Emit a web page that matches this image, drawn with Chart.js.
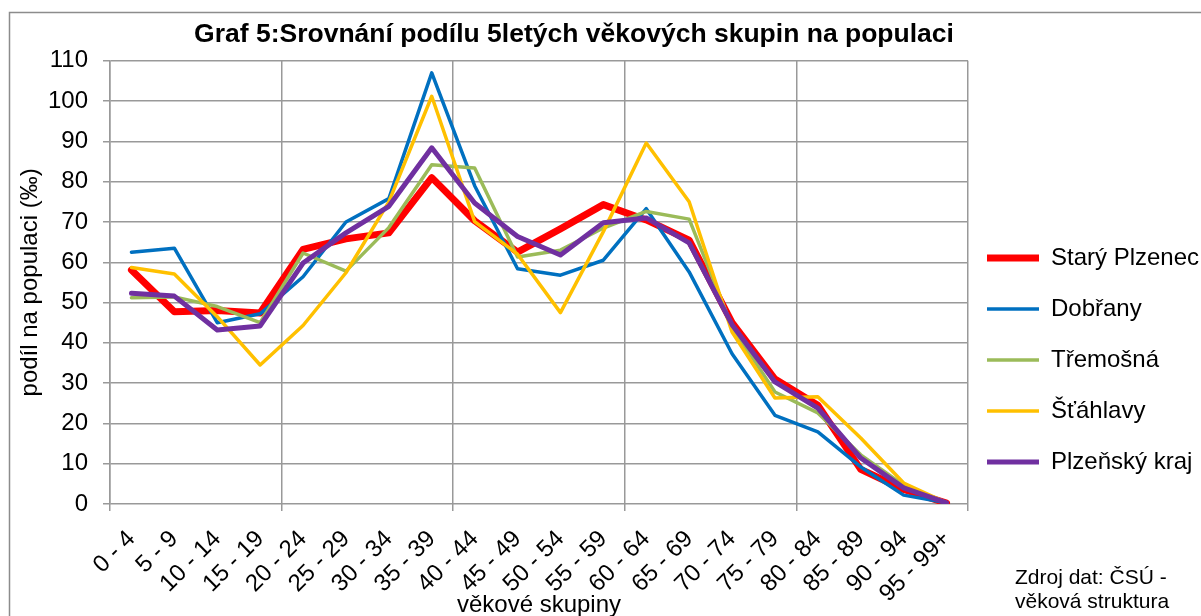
<!DOCTYPE html>
<html>
<head>
<meta charset="utf-8">
<script src="https://cdn.jsdelivr.net/npm/chart.js@4.4.1/dist/chart.umd.min.js"></script>
<style>
  body { margin: 0; background: #fff; }
  #wrap { width: 1201px; height: 616px; position: relative; }
</style>
</head>
<body>
<div id="wrap"><canvas id="graf5"></canvas></div>
<script>
// Věkové skupiny (osa x)
var skupiny = ['0 - 4', '5 - 9', '10 - 14', '15 - 19', '20 - 24', '25 - 29', '30 - 34', '35 - 39', '40 - 44', '45 - 49',
    '50 - 54', '55 - 59', '60 - 64', '65 - 69', '70 - 74', '75 - 79', '80 - 84', '85 - 89', '90 - 94', '95 - 99+'];

// Podíl na populaci (‰) pro jednotlivé obce
var stary_plzenec = [58.1, 47.7, 48, 47.4, 63.2, 65.8, 67.3, 81, 70.3, 62.5, 68.3, 74.3, 70.5, 65.5, 45, 31, 24.5, 8.6, 3.6, 0.2];
var dobrany = [62.5, 63.5, 45, 47.2, 56.4, 70, 75.8, 107, 79, 58.4, 56.8, 60.5, 73.3, 57.6, 37.3, 22, 17.9, 9.2, 2.2, 0.3];
var tremosna = [51.2, 51.4, 49, 45, 62.3, 57.8, 68.6, 84.2, 83.4, 61.3, 63, 68.5, 72.6, 70.7, 44, 27.8, 22.6, 12.2, 4.7, 0.3];
var stahlavy = [58.7, 57.1, 46.5, 34.5, 44.3, 57.4, 75, 101.2, 70.1, 62, 47.5, 67.6, 89.6, 75, 42.7, 26.3, 26.6, 16.4, 5.2, 0.3];
var plzensky_kraj = [52.3, 51.6, 43.2, 44.2, 59.8, 67.3, 73.9, 88.4, 74.7, 66.4, 61.8, 69.8, 71, 64.8, 44.5, 30.3, 23.8, 11.4, 4, 0.3];

// Osa y
var y_min = 0;
var y_max = 110;
var y_krok = 10;

var pismo = 'Liberation Sans, Arial, sans-serif';
var mrizka = '#999999';

Chart.defaults.font.family = pismo;
Chart.defaults.color = '#000';

function serie(nazev, data, barva, sirka, poradi) {
    return {
        label: nazev,
        data: data,
        borderColor: barva,
        backgroundColor: barva,
        borderWidth: sirka,
        borderJoinStyle: 'round',
        borderCapStyle: 'round',
        pointRadius: 0,
        pointHoverRadius: 0,
        pointStyle: 'line',
        tension: 0,
        fill: false,
        order: poradi
    };
}

// Rámeček grafu, posun legendy a poznámka o zdroji
var ramecek = {
    id: 'ramecek',
    afterLayout: function(chart) {
        var lg = chart.legend;
        lg.left -= 8;
        lg.right = 1201;
        lg.width = lg.right - lg.left;
        lg.top -= 3;
        lg.bottom -= 3;
    },
    afterDraw: function(chart) {
        var ctx = chart.ctx;
        ctx.save();
        ctx.strokeStyle = '#8c8c8c';
        ctx.lineWidth = 1.5;
        ctx.beginPath();
        ctx.moveTo(9.5, 616);
        ctx.lineTo(9.5, 12.5);
        ctx.lineTo(1201, 12.5);
        ctx.stroke();
        ctx.fillStyle = '#000';
        ctx.font = '21px ' + pismo;
        ctx.textAlign = 'left';
        ctx.textBaseline = 'middle';
        ctx.fillText('Zdroj dat: ČSÚ -', 1015, 578);
        ctx.fillText('věková struktura', 1015, 602);
        ctx.restore();
    }
};

var ctx = document.getElementById('graf5');
var graf = new Chart(ctx, {
    type: 'line',
    data: {
        labels: skupiny,
        datasets: [
            serie('Starý Plzenec', stary_plzenec, '#FF0000', 7, 5),
            serie('Dobřany', dobrany, '#0070C0', 3.5, 4),
            serie('Třemošná', tremosna, '#9BBB59', 3.5, 3),
            serie('Šťáhlavy', stahlavy, '#FFC000', 3.5, 2),
            serie('Plzeňský kraj', plzensky_kraj, '#7030A0', 5, 1)
        ]
    },
    options: {
        responsive: true,
        maintainAspectRatio: false,
        animation: false,
        layout: { padding: { left: 0, right: 53, top: 0, bottom: 0 } },
        plugins: {
            title: {
                display: true,
                text: 'Graf 5:Srovnání podílu 5letých věkových skupin na populaci',
                font: { size: 26.5, weight: 'bold' },
                color: '#000',
                padding: { top: 19, bottom: 10 }
            },
            legend: {
                position: 'right',
                align: 'end',
                fullSize: false,
                maxWidth: 180,
                labels: {
                    usePointStyle: true,
                    pointStyleWidth: 52,
                    padding: 27,
                    font: { size: 24 },
                    color: '#000',
                    sort: function(a, b) { return a.datasetIndex - b.datasetIndex; }
                }
            },
            tooltip: { enabled: false }
        },
        scales: {
            x: {
                offset: true,
                grid: {
                    offset: true,
                    color: function(c) {
                        return (c.index === undefined || c.index % 4 === 0) ? mrizka : 'rgba(0,0,0,0)';
                    },
                    lineWidth: 1.5,
                    tickLength: 7
                },
                border: { display: false },
                ticks: {
                    autoSkip: false,
                    maxRotation: 45,
                    minRotation: 45,
                    padding: 14,
                    font: { size: 24 },
                    color: '#000'
                },
                title: {
                    display: true,
                    text: 'věkové skupiny',
                    font: { size: 24 },
                    color: '#000',
                    padding: { top: 0, bottom: -4 }
                },
                afterFit: function(scale) { scale.height = 112; }
            },
            y: {
                min: y_min,
                max: y_max,
                ticks: {
                    stepSize: y_krok,
                    padding: 15,
                    font: { size: 24 },
                    color: '#000'
                },
                grid: { color: mrizka, lineWidth: 1.5, tickLength: 7 },
                border: { display: true, color: mrizka, width: 1.5 },
                title: {
                    display: true,
                    text: 'podíl na populaci (‰)',
                    font: { size: 24 },
                    color: '#000',
                    padding: { top: 16, bottom: 0 }
                },
                afterFit: function(scale) { scale.width = 110; }
            }
        }
    },
    plugins: [ramecek]
});
</script>
</body>
</html>
